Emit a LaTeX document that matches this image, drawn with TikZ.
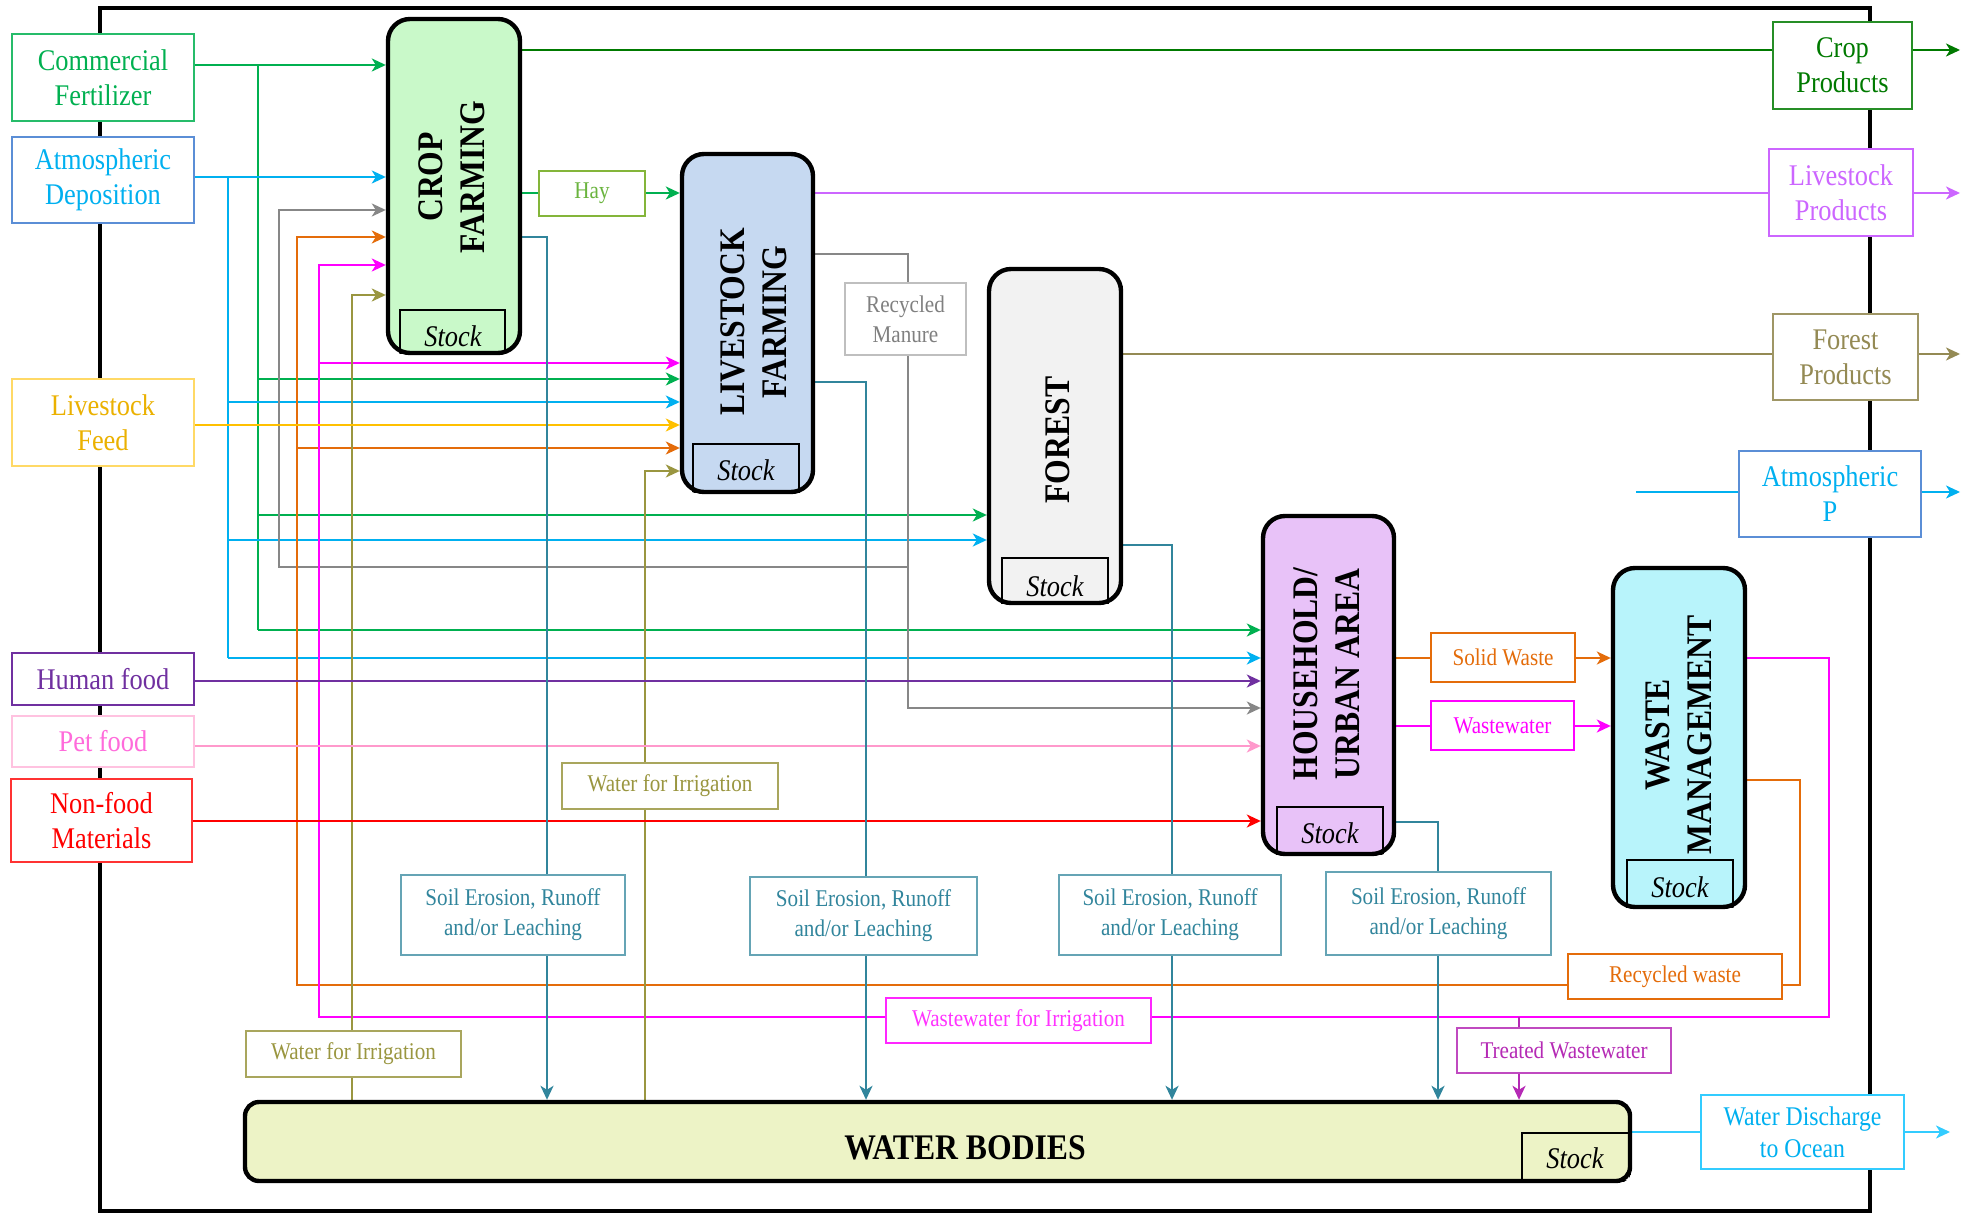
\documentclass[tikz,border=0pt]{standalone}
\usepackage{fontspec}
\setmainfont{Liberation Serif}[FakeStretch=0.88]
\usetikzlibrary{arrows.meta}
\pgfdeclarelayer{back}
\pgfsetlayers{back,main}

% flow colours
\definecolor{cGreen}{HTML}{00B050}
\definecolor{cBlue}{HTML}{00B0F0}
\definecolor{cBlueB}{HTML}{5B8ED6}
\definecolor{cGray}{HTML}{878787}
\definecolor{cOrange}{HTML}{E46C0A}
\definecolor{cMag}{HTML}{FF00FF}
\definecolor{cOlive}{HTML}{9A9640}
\definecolor{cYellow}{HTML}{FFC000}
\definecolor{cPurple}{HTML}{7030A0}
\definecolor{cPink}{HTML}{FF99CC}
\definecolor{cRed}{HTML}{FF0000}
\definecolor{cTeal}{HTML}{31859C}
\definecolor{cDkGreen}{HTML}{007A00}
\definecolor{cViolet}{HTML}{CC66FF}
\definecolor{cForest}{HTML}{948A54}
\definecolor{cSky}{HTML}{33CCFF}
\definecolor{cTreat}{HTML}{B52AB5}
\definecolor{cHay}{HTML}{84B53A}
% compartment fills
\definecolor{fCrop}{HTML}{C9F9C9}
\definecolor{fLive}{HTML}{C6D9F1}
\definecolor{fForest}{HTML}{F2F2F2}
\definecolor{fHouse}{HTML}{E8C2F8}
\definecolor{fWaste}{HTML}{B8F4FB}
\definecolor{fWater}{HTML}{EDF3C6}

% box from corner coordinates: name, x1, y1, x2, y2, style, text
\newcommand\mkbox[7]{%
  \pgfmathsetmacro\mkw{(#4-#2)/2}%
  \pgfmathsetmacro\mkh{(#5-#3)/2}%
  \node[#6, minimum width=\mkw pt, minimum height=\mkh pt] (#1) at ({(#2+#4)/2},{(#3+#5)/2}) {#7};}

\begin{document}
\begin{tikzpicture}[x=0.5pt,y=-0.5pt,
  src/.style={draw=#1, fill=white, line width=0.8pt, align=center, inner sep=1pt},
  proc/.style={fill=#1, draw=black, line width=2.2pt, rounded corners=11pt, inner sep=0pt},
  big/.style={font=\fontsize{15pt}{17.5pt}\selectfont},
  small/.style={font=\fontsize{12pt}{15pt}\selectfont},
  boldtxt/.style={font=\bfseries\fontsize{18pt}{21pt}\selectfont, align=center},
  stocktxt/.style={font=\itshape\fontsize{15pt}{18pt}\selectfont},
  stockline/.style={draw=black, line width=0.6pt},
  ln/.style={line width=1.1pt},
  arr/.style={-{Stealth[length=7pt,width=6.5pt,inset=2pt]}},
  frame/.style={draw=black, line width=2.2pt}]
\useasboundingbox (0,0) rectangle (1968,1213);

% ---------- compartments ----------
\mkbox{crop}{388}{19}{520}{353}{proc=fCrop}{}
\begin{scope}
  \clip[rounded corners=11pt] (crop.south west) rectangle (crop.north east);
  \draw[stockline] (400,310) rectangle (505,353);
\end{scope}
\node[boldtxt, rotate=90] (cropT) at (452,177) {CROP\\FARMING};
\node[stocktxt] (cropS) at (453,336) {Stock};

\mkbox{ls}{682}{154}{813}{492}{proc=fLive}{}
\begin{scope}
  \clip[rounded corners=11pt] (ls.south west) rectangle (ls.north east);
  \draw[stockline] (693,444) rectangle (799,492);
\end{scope}
\node[boldtxt, rotate=90] (lsT) at (754,322) {LIVESTOCK\\FARMING};
\node[stocktxt] (lsS) at (746,470) {Stock};

\mkbox{forest}{989}{269}{1121}{603}{proc=fForest}{}
\begin{scope}
  \clip[rounded corners=11pt] (forest.south west) rectangle (forest.north east);
  \draw[stockline] (1002,558) rectangle (1108,603);
\end{scope}
\node[boldtxt, rotate=90] (forestT) at (1058,440) {FOREST};
\node[stocktxt] (forestS) at (1055,586) {Stock};

\mkbox{hh}{1263}{516}{1394}{854}{proc=fHouse}{}
\begin{scope}
  \clip[rounded corners=11pt] (hh.south west) rectangle (hh.north east);
  \draw[stockline] (1277,807) rectangle (1383,854);
\end{scope}
\node[boldtxt, rotate=90] (hhT) at (1327,674) {HOUSEHOLD/\\URBAN AREA};
\node[stocktxt] (hhS) at (1330,833) {Stock};

\mkbox{wm}{1613}{568}{1745}{907}{proc=fWaste}{}
\begin{scope}
  \clip[rounded corners=11pt] (wm.south west) rectangle (wm.north east);
  \draw[stockline] (1627,860) rectangle (1733,907);
\end{scope}
\node[boldtxt, rotate=90] (wmT) at (1679,735) {WASTE\\MANAGEMENT};
\node[stocktxt] (wmS) at (1680,887) {Stock};

\mkbox{wb}{245}{1102}{1630}{1181}{proc=fWater, rounded corners=7pt}{}
\begin{scope}
  \clip[rounded corners=7pt] (wb.south west) rectangle (wb.north east);
  \draw[stockline] (1522,1133) rectangle (1630,1181);
\end{scope}
\node[boldtxt] (wbT) at (965,1148) {WATER BODIES};
\node[stocktxt] (wbS) at (1575,1158) {Stock};

% ---------- sources ----------
\mkbox{cf}{12}{34}{194}{121}{src=cGreen!85, text=cGreen, big}{Commercial\\Fertilizer}
\mkbox{ad}{12}{137}{194}{223}{src=cBlueB, text=cBlue, big}{Atmospheric\\Deposition}
\mkbox{lf}{12}{379}{194}{466}{src=cYellow!60, text=cYellow!92!black, big}{Livestock\\Feed}
\mkbox{hf}{12}{653}{194}{705}{src=cPurple, text=cPurple, big}{Human food}
\mkbox{pf}{12}{716}{194}{767}{src=cPink!60, text=cPink!70!cMag, big}{Pet food}
\mkbox{nf}{11}{779}{192}{862}{src=cRed!80, text=cRed, big}{Non-food\\Materials}

% ---------- outputs ----------
\mkbox{cp}{1773}{22}{1912}{109}{src=cDkGreen!85, text=cDkGreen, big}{Crop\\Products}
\mkbox{lp}{1769}{149}{1913}{236}{src=cViolet, text=cViolet, big}{Livestock\\Products}
\mkbox{fp}{1773}{314}{1918}{400}{src=cForest!90, text=cForest, big}{Forest\\Products}
\mkbox{ap}{1739}{451}{1921}{537}{src=cBlueB, text=cBlue, big}{Atmospheric\\P}
\mkbox{wd}{1701}{1095}{1904}{1169}{src=cSky, text=cBlue, font=\fontsize{13.5pt}{16pt}\selectfont}{Water Discharge\\to Ocean}

% ---------- flow labels ----------
\mkbox{hay}{539}{171}{645}{216}{src=cHay, text=cHay!80!cGreen, small}{Hay}
\mkbox{rm}{845}{283}{966}{355}{src=gray!50, text=gray, small}{Recycled\\Manure}
\mkbox{sw}{1431}{633}{1575}{682}{src=cOrange, text=cOrange, small}{Solid Waste}
\mkbox{ww}{1431}{701}{1574}{750}{src=cMag, text=cMag, small}{Wastewater}
\mkbox{wi1}{562}{763}{778}{809}{src=cOlive!85, text=cOlive, small}{Water for Irrigation}
\mkbox{wi2}{246}{1031}{461}{1077}{src=cOlive!85, text=cOlive, small}{Water for Irrigation}
\mkbox{se1}{401}{875}{625}{955}{src=cTeal!75, text=cTeal, small}{Soil Erosion, Runoff\\and/or Leaching}
\mkbox{se2}{750}{877}{977}{955}{src=cTeal!75, text=cTeal, small}{Soil Erosion, Runoff\\and/or Leaching}
\mkbox{se3}{1059}{875}{1281}{955}{src=cTeal!75, text=cTeal, small}{Soil Erosion, Runoff\\and/or Leaching}
\mkbox{se4}{1326}{872}{1551}{955}{src=cTeal!75, text=cTeal, small}{Soil Erosion, Runoff\\and/or Leaching}
\mkbox{rw}{1568}{954}{1782}{999}{src=cOrange, text=cOrange, small}{Recycled waste}
\mkbox{wwi}{886}{998}{1151}{1043}{src=cMag!85, text=cMag!80, small}{Wastewater for Irrigation}
\mkbox{tw}{1457}{1028}{1671}{1073}{src=cTreat!85, text=cTreat, small}{Treated Wastewater}

% free ends of the outgoing flows
\coordinate (cpOut) at (1960,50);
\coordinate (lpOut) at (1960,193);
\coordinate (fpOut) at (1960,354);
\coordinate (apIn) at (1636,492);
\coordinate (apOut) at (1960,492);
\coordinate (wdOut) at (1950,1132);

\begin{pgfonlayer}{back}
\draw[frame] (100,8) rectangle (1870,1211);

% commercial fertilizer
\draw[ln, cGreen, arr] (cf.east |- 0,65) -- (crop.west |- 0,65);
\draw[ln, cGreen] (258,65) -- (258,630);
\draw[ln, cGreen, arr] (258,379) -- (ls.west |- 0,379);
\draw[ln, cGreen, arr] (258,515) -- (forest.west |- 0,515);
\draw[ln, cGreen, arr] (258,630) -- (hh.west |- 0,630);

% atmospheric deposition
\draw[ln, cBlue, arr] (ad.east |- 0,177) -- (crop.west |- 0,177);
\draw[ln, cBlue] (228,177) -- (228,658);
\draw[ln, cBlue, arr] (228,402) -- (ls.west |- 0,402);
\draw[ln, cBlue, arr] (228,540) -- (forest.west |- 0,540);
\draw[ln, cBlue, arr] (228,658) -- (hh.west |- 0,658);

% recycled manure
\draw[ln, cGray, arr] (ls.east |- 0,254) -| (908,708) -- (hh.west |- 0,708);
\draw[ln, cGray, arr] (908,567) -| (279,210) -- (crop.west |- 0,210);

% recycled waste
\draw[ln, cOrange, arr] (wm.east |- 0,780) -| (1800,985) -| (297,237) -- (crop.west |- 0,237);
\draw[ln, cOrange, arr] (297,448) -- (ls.west |- 0,448);

% wastewater for irrigation and treated wastewater
\draw[ln, cMag, arr] (wm.east |- 0,658) -| (1829,1017) -| (319,265) -- (crop.west |- 0,265);
\draw[ln, cMag, arr] (319,363) -- (ls.west |- 0,363);
\draw[ln, cTreat, arr] (1519,1017) -- (wb.north -| 1519,0);

% water for irrigation
\draw[ln, cOlive, arr] (wb.north -| 352,0) |- (crop.west |- 0,295);
\draw[ln, cOlive, arr] (wb.north -| 645,0) |- (ls.west |- 0,471);

% livestock feed and household inputs
\draw[ln, cYellow, arr] (lf.east |- 0,425) -- (ls.west |- 0,425);
\draw[ln, cPurple, arr] (hf.east |- 0,681) -- (hh.west |- 0,681);
\draw[ln, cPink, arr] (pf.east |- 0,746) -- (hh.west |- 0,746);
\draw[ln, cRed, arr] (nf.east |- 0,821) -- (hh.west |- 0,821);

% soil erosion, runoff and leaching
\draw[ln, cTeal, arr] (crop.east |- 0,237) -| (wb.north -| 547,0);
\draw[ln, cTeal, arr] (ls.east |- 0,382) -| (wb.north -| 866,0);
\draw[ln, cTeal, arr] (forest.east |- 0,545) -| (wb.north -| 1172,0);
\draw[ln, cTeal, arr] (hh.east |- 0,822) -| (wb.north -| 1438,0);

% hay and products
\draw[ln, cGreen, arr] (crop.east |- 0,193) -- (ls.west |- 0,193);
\draw[ln, cDkGreen, arr] (crop.east |- 0,50) -- (cpOut);
\draw[ln, cViolet, arr] (ls.east |- 0,193) -- (lpOut);
\draw[ln, cForest, arr] (forest.east |- 0,354) -- (fpOut);
\draw[ln, cBlue, arr] (apIn) -- (apOut);

% household to waste management
\draw[ln, cOrange, arr] (hh.east |- 0,658) -- (wm.west |- 0,658);
\draw[ln, cMag, arr] (hh.east |- 0,726) -- (wm.west |- 0,726);

% discharge
\draw[ln, cSky, arr] (wb.east |- 0,1132) -- (wdOut);
\end{pgfonlayer}
\end{tikzpicture}
\end{document}
